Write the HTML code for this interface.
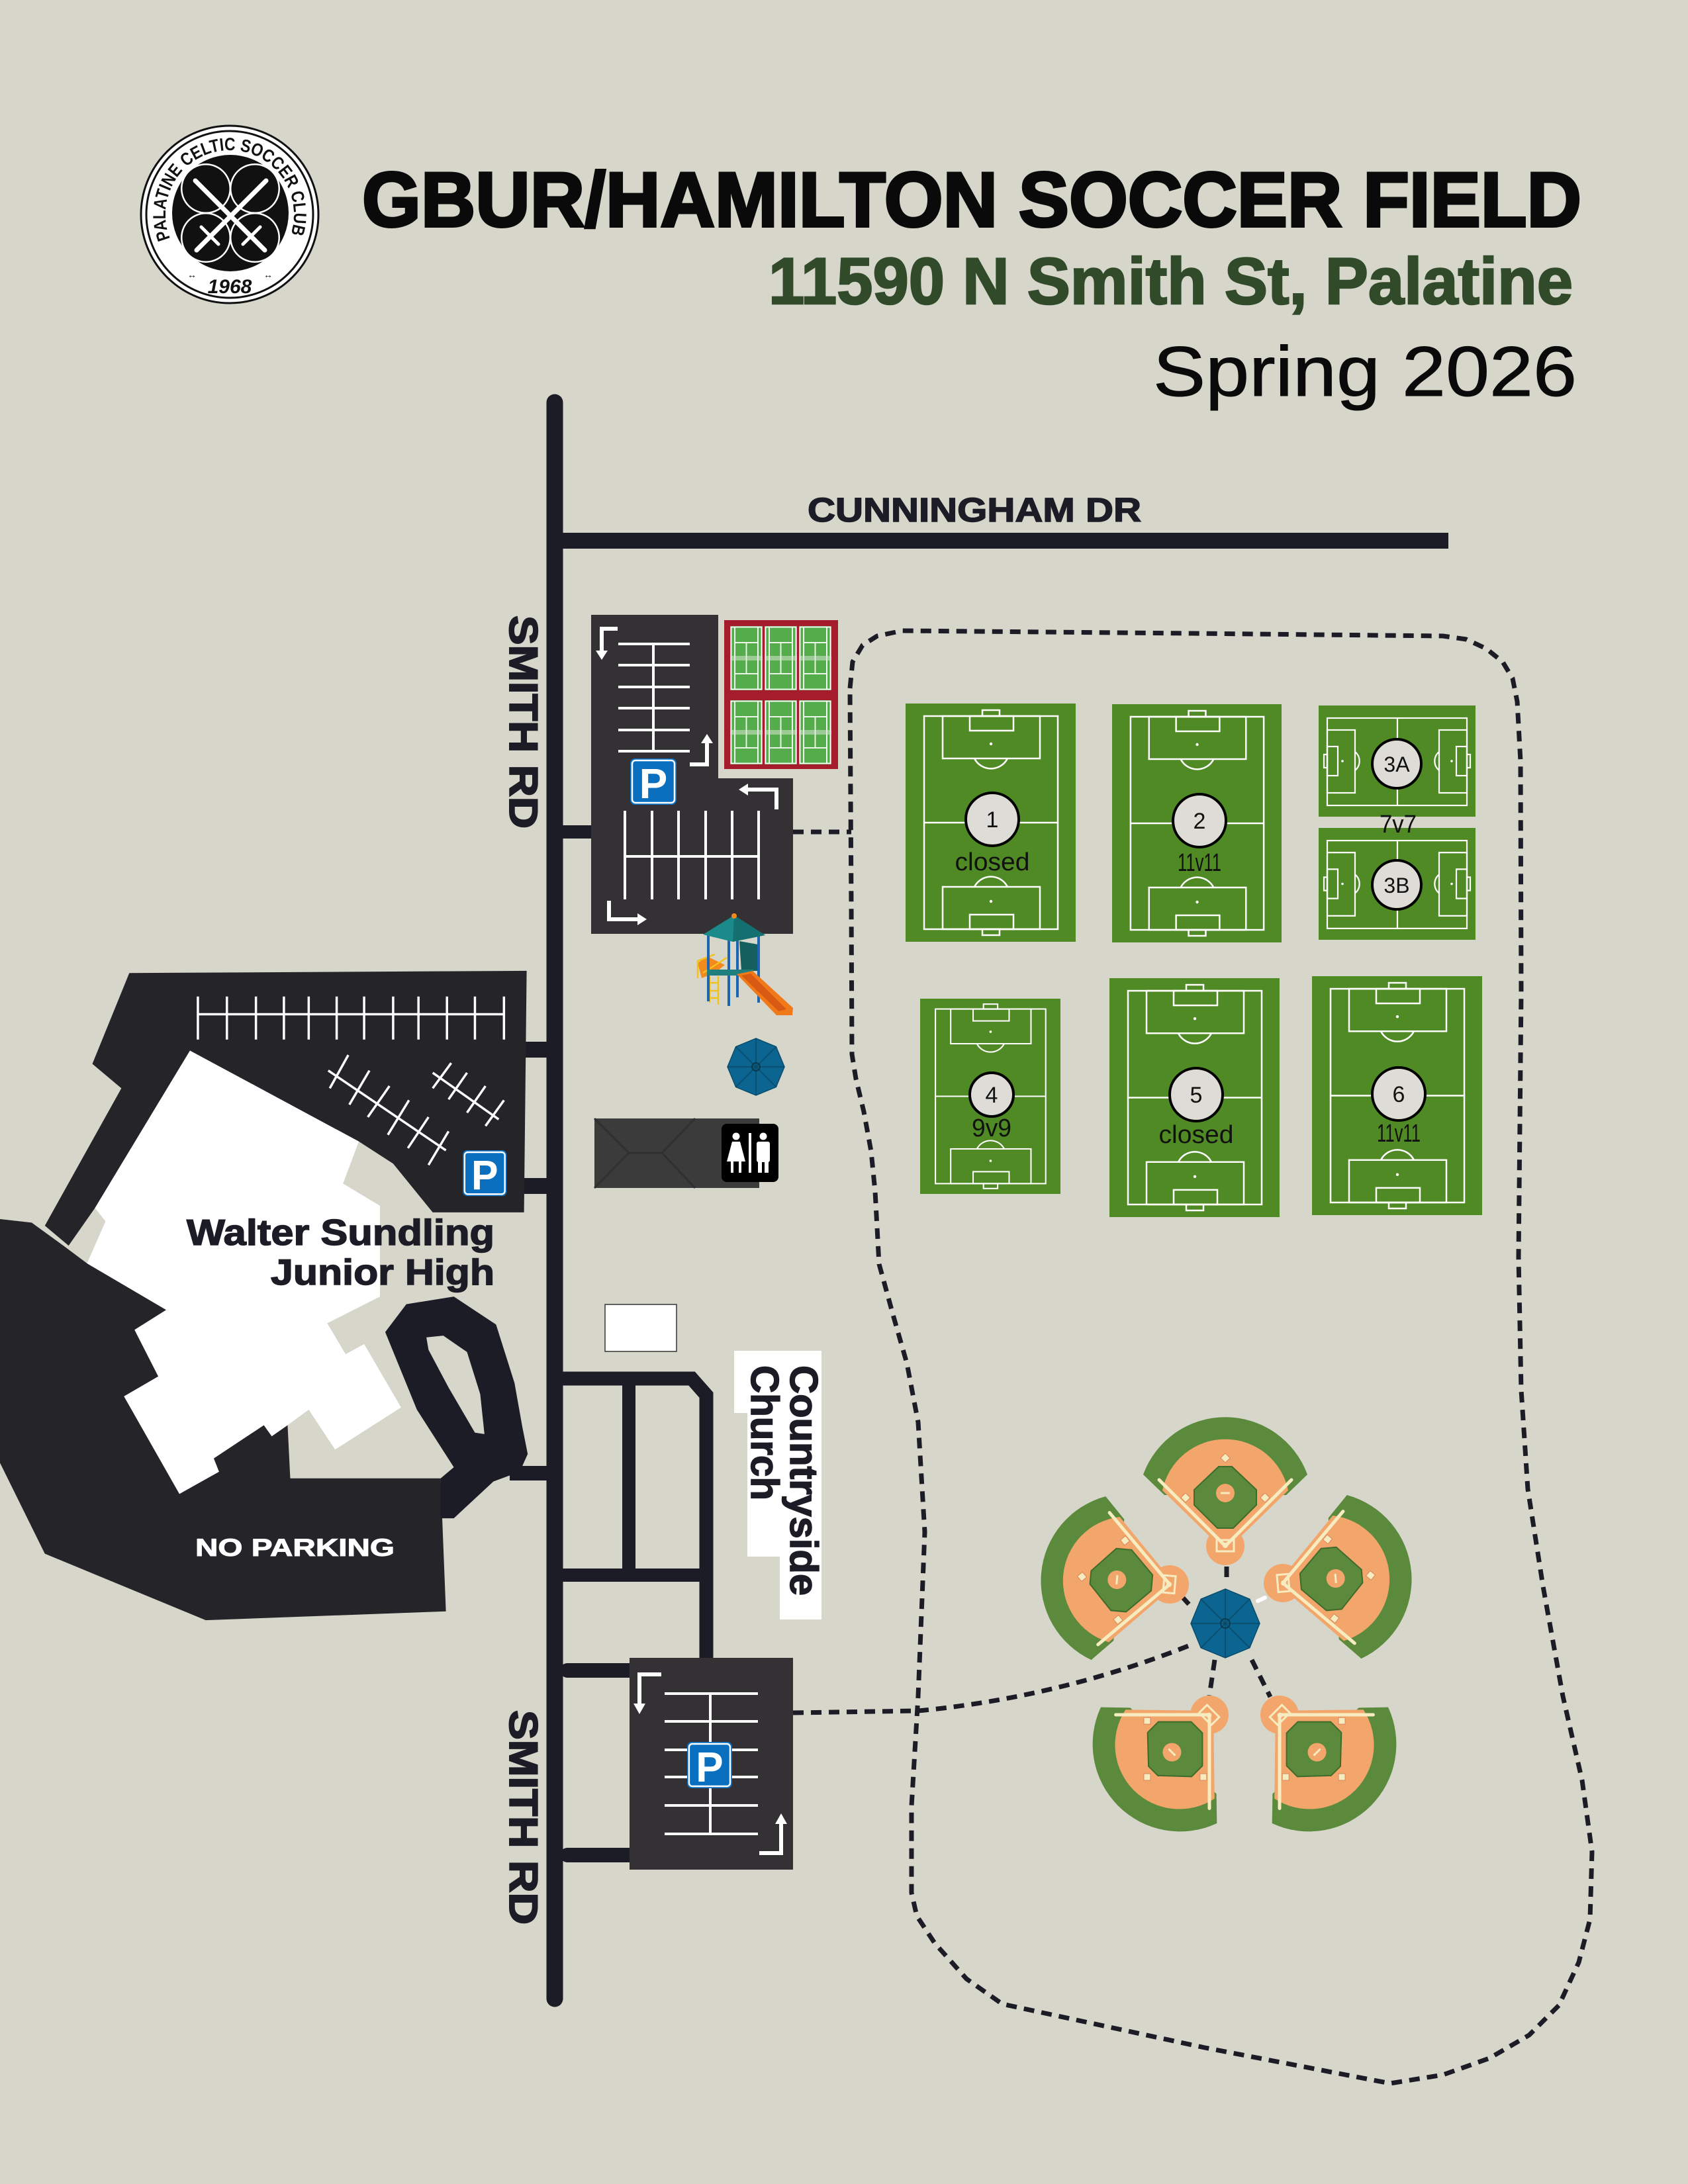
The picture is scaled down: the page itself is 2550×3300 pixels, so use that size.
<!DOCTYPE html>
<html><head><meta charset="utf-8"><style>
html,body{margin:0;padding:0;background:#d6d6cb;}
svg{display:block;}
text{font-family:"Liberation Sans",Arial,sans-serif;}
</style></head><body>
<svg xmlns="http://www.w3.org/2000/svg" xmlns:xlink="http://www.w3.org/1999/xlink" width="2550" height="3300" viewBox="0 0 2550 3300">
<defs>
<symbol id="fv" viewBox="0 0 257 360" preserveAspectRatio="none">
<rect width="257" height="360" fill="#4f8a25"/>
<g fill="none" stroke="#fff" stroke-width="2.5">
<rect x="28" y="19" width="202" height="322"/>
<line x1="28" y1="180" x2="230" y2="180"/>
<rect x="56" y="19" width="147" height="64"/>
<rect x="97" y="19" width="66" height="22"/>
<rect x="116" y="10" width="26" height="9"/>
<path d="M104 83 A28 28 0 0 0 154 83"/>
<rect x="56" y="277" width="147" height="64"/>
<rect x="97" y="319" width="66" height="22"/>
<rect x="116" y="341" width="26" height="9"/>
<path d="M104 277 A28 28 0 0 1 154 277"/>
</g>
<circle cx="129" cy="61" r="2.2" fill="#fff"/><circle cx="129" cy="299" r="2.2" fill="#fff"/>
</symbol>
<symbol id="fh" viewBox="0 0 237 168" preserveAspectRatio="none">
<rect width="237" height="168" fill="#4f8a25"/>
<g fill="none" stroke="#fff" stroke-width="2.2">
<rect x="13" y="19" width="211" height="132"/>
<line x1="119" y1="19" x2="119" y2="151"/>
<rect x="13" y="37" width="42" height="95"/>
<rect x="13" y="62" width="16" height="44"/>
<rect x="8" y="74" width="5" height="20"/>
<path d="M55 70 A18 18 0 0 1 55 98"/>
<rect x="182" y="37" width="42" height="95"/>
<rect x="208" y="62" width="16" height="44"/>
<rect x="224" y="74" width="5" height="20"/>
<path d="M182 70 A18 18 0 0 0 182 98"/>
</g>
<circle cx="36" cy="84" r="1.8" fill="#fff"/><circle cx="201" cy="84" r="1.8" fill="#fff"/>
</symbol>
<symbol id="tc" viewBox="0 0 49 97" preserveAspectRatio="none">
<rect width="49" height="97" fill="#54ad4a"/>
<g fill="none" stroke="#fff" stroke-width="1.8">
<rect x="1.5" y="1.5" width="46" height="94"/>
<line x1="7" y1="1.5" x2="7" y2="95.5"/><line x1="42" y1="1.5" x2="42" y2="95.5"/>
<line x1="7" y1="25" x2="42" y2="25"/><line x1="7" y1="72" x2="42" y2="72"/>
<line x1="24.5" y1="25" x2="24.5" y2="72"/>
</g>
<rect x="0" y="45" width="49" height="7" fill="#d9e3d6" opacity="0.55"/>
</symbol>
<g id="bb">
<path d="M-92 -77 L-124 -108 A132 132 0 0 1 124 -108 L92 -77 Z" fill="#5b8a3c"/>
<path d="M-15 -6 L-95 -84 A97 97 0 0 1 95 -84 L15 -6 Z" fill="#f3a66c"/>
<circle cx="0" cy="0" r="29" fill="#f3a66c"/>
<polygon points="-10,-120 10,-120 47,-85 47,-62 12,-27 -12,-27 -47,-62 -47,-85" fill="#5b8a3c" stroke="#3e6b2a" stroke-width="2"/>
<circle cx="0" cy="-80" r="14" fill="#f3a66c"/>
<line x1="-7" y1="-80" x2="7" y2="-80" stroke="#f6ecc0" stroke-width="3"/>
<g fill="#f6ecc0" stroke="#d9875a" stroke-width="1">
<rect x="-5" y="-5" width="10" height="10" transform="translate(-60,-73) rotate(45)"/>
<rect x="-5" y="-5" width="10" height="10" transform="translate(0,-133) rotate(45)"/>
<rect x="-5" y="-5" width="10" height="10" transform="translate(60,-73) rotate(45)"/>
</g>
<g stroke="#f6ecc0" stroke-width="5" stroke-linecap="round">
<line x1="0" y1="0" x2="-100" y2="-100"/><line x1="0" y1="0" x2="100" y2="-100"/>
</g>
<rect x="-13" y="-9" width="26" height="17" fill="none" stroke="#f6ecc0" stroke-width="3"/>
<circle cx="0" cy="-1" r="4" fill="#f6ecc0"/>
</g>
<g id="psign">
<rect x="0" y="0" width="70" height="70" rx="7" fill="#0b6fc0"/>
<rect x="3" y="3" width="64" height="64" rx="5" fill="none" stroke="#fff" stroke-width="2.5"/>
<text x="35" y="60" font-size="64" font-weight="bold" fill="#fff" text-anchor="middle">P</text>
</g>
</defs>

<rect width="2550" height="3300" fill="#d6d6cb"/>

<!-- LOGO -->
<circle cx="347" cy="324" r="134" fill="#fff" stroke="#111" stroke-width="3"/>
<circle cx="347" cy="324" r="126" fill="none" stroke="#111" stroke-width="3"/>
<path id="ringp" d="M257.1 360.4 A97 97 0 1 1 436.9 360.4" fill="none"/>
<text font-size="27" font-weight="bold" fill="#111"><textPath xlink:href="#ringp" href="#ringp" textLength="372" lengthAdjust="spacingAndGlyphs">PALATINE CELTIC SOCCER CLUB</textPath></text>
<circle cx="348" cy="322" r="88" fill="#111"/>
<g fill="#fff"><circle cx="311" cy="285" r="38"/><circle cx="385" cy="285" r="38"/><circle cx="311" cy="359" r="38"/><circle cx="385" cy="359" r="38"/></g>
<g fill="#111"><circle cx="311" cy="285" r="35.5"/><circle cx="385" cy="285" r="35.5"/><circle cx="311" cy="359" r="35.5"/><circle cx="385" cy="359" r="35.5"/></g>
<g stroke="#fff" stroke-linecap="round">
<line x1="402" y1="273" x2="297" y2="378" stroke-width="7"/>
<line x1="295" y1="273" x2="400" y2="378" stroke-width="7"/>
<line x1="304" y1="343" x2="330" y2="369" stroke-width="5"/>
<line x1="393" y1="343" x2="367" y2="369" stroke-width="5"/>
</g>
<text x="347" y="443" font-size="30" font-weight="bold" font-style="italic" fill="#111" text-anchor="middle">1968</text>
<text x="283" y="420" font-size="14" fill="#111">↔</text>
<text x="398" y="420" font-size="14" fill="#111">↔</text>

<!-- TITLE -->
<text x="547" y="342" font-size="117" font-weight="bold" fill="#0a0a0a" stroke="#0a0a0a" stroke-width="4" textLength="1842" lengthAdjust="spacingAndGlyphs">GBUR/HAMILTON SOCCER FIELD</text>
<text x="1161" y="459" font-size="99" font-weight="bold" fill="#314b2a" stroke="#314b2a" stroke-width="2.5" textLength="1215" lengthAdjust="spacingAndGlyphs">11590 N Smith St, Palatine</text>
<text x="1742" y="598" font-size="107" fill="#0a0a0a" stroke="#0a0a0a" stroke-width="1" textLength="640" lengthAdjust="spacingAndGlyphs">Spring 2026</text>

<!-- ROADS -->
<g stroke="#1c1c27" fill="none">
<line x1="838" y1="608" x2="838" y2="3020" stroke-width="25" stroke-linecap="round"/>
<line x1="838" y1="817" x2="2188" y2="817" stroke-width="24"/>
<line x1="838" y1="1257" x2="895" y2="1257" stroke-width="20"/>
<line x1="782" y1="1586" x2="838" y2="1586" stroke-width="24" stroke-linecap="round"/>
<line x1="782" y1="1792" x2="838" y2="1792" stroke-width="24" stroke-linecap="round"/>
<line x1="770" y1="2226" x2="838" y2="2226" stroke-width="22"/>
<path d="M838 2083 L1045 2083 L1067 2108 L1067 2508" stroke-width="21"/>
<line x1="950" y1="2083" x2="950" y2="2380" stroke-width="20"/>
<line x1="838" y1="2380" x2="1067" y2="2380" stroke-width="20"/>
<line x1="857" y1="2524" x2="955" y2="2524" stroke-width="22" stroke-linecap="round"/>
<line x1="857" y1="2803" x2="955" y2="2803" stroke-width="22" stroke-linecap="round"/>
</g>
<text x="1220" y="788" font-size="51" font-weight="bold" fill="#1c1c26" stroke="#1c1c26" stroke-width="1.5" textLength="504" lengthAdjust="spacingAndGlyphs">CUNNINGHAM DR</text>
<text transform="translate(770,930) rotate(90)" font-size="60" font-weight="bold" fill="#1c1c26" stroke="#1c1c26" stroke-width="2" textLength="322" lengthAdjust="spacingAndGlyphs">SMITH  RD</text>
<text transform="translate(770,2584) rotate(90)" font-size="60" font-weight="bold" fill="#1c1c26" stroke="#1c1c26" stroke-width="2" textLength="324" lengthAdjust="spacingAndGlyphs">SMITH  RD</text>

<!-- SCHOOL -->
<g transform="translate(0,1420) scale(0.79719,0.66979)">
<polygon fill="#242429" points="245,75 998,70 993,615 820,615 745,505 680,455 360,250 180,605 130,690 85,645 230,335 175,280"/>
<polygon fill="#242429" points="0,630 60,638 120,690 165,730 315,835 255,880 300,985 235,1030 340,1250 415,1200 405,1170 500,1095 515,1120 545,1095 550,1215 835,1215 845,1515 390,1535 85,1385 0,1180"/>
<polygon fill="#1c1c27" points="730,885 770,822 860,805 940,868 975,1000 990,1100 1000,1160 985,1200 935,1222 860,1305 835,1305 835,1215 860,1190 790,1060"/>
<polygon fill="#d6d6cb" points="808,897 840,893 885,930 910,1025 918,1115 900,1112 850,1010 812,925"/>
<polygon fill="#ffffff" points="360,250 680,455 650,550 720,600 720,805 620,865 655,935 690,912 760,1055 635,1150 585,1060 545,1095 515,1120 500,1095 405,1170 415,1200 340,1250 235,1030 300,985 255,880 315,835 165,730 200,635 180,605"/>
<g stroke="#fff" stroke-width="3.5" vector-effect="non-scaling-stroke" fill="none">
<line x1="375" y1="168" x2="955" y2="168" vector-effect="non-scaling-stroke"/>
<path vector-effect="non-scaling-stroke" d="M375 128V225M430 128V225M485 128V225M538 128V225M585 128V225M638 128V225M690 128V225M745 128V225M793 128V225M847 128V225M900 128V225M955 128V225"/>
<path vector-effect="non-scaling-stroke" d="M622 295L845 475M660 260L625 335M700 295L662 372M738 330L697 400M775 362L735 440M812 400L773 470M850 432L812 508"/>
<path vector-effect="non-scaling-stroke" d="M820 300L945 405M855 278L820 335M885 300L850 360M920 330L885 390M955 362L920 420"/>
</g>
</g>
<use href="#psign" xlink:href="#psign" transform="translate(699,1738) scale(0.95,0.99)"/>
<text x="747" y="1881" font-size="55" font-weight="bold" fill="#1c1c26" stroke="#1c1c26" stroke-width="1.5" text-anchor="end" textLength="465" lengthAdjust="spacingAndGlyphs">Walter Sundling</text>
<text x="747" y="1941" font-size="55" font-weight="bold" fill="#1c1c26" stroke="#1c1c26" stroke-width="1.5" text-anchor="end" textLength="338" lengthAdjust="spacingAndGlyphs">Junior High</text>
<text x="295" y="2351" font-size="37" font-weight="bold" fill="#fff" stroke="#fff" stroke-width="1" textLength="301" lengthAdjust="spacingAndGlyphs">NO PARKING</text>

<!-- UPPER PARKING -->
<path d="M893 929 H1085 V1176 H1198 V1411 H893 Z" fill="#333133"/>
<g stroke="#fff" stroke-width="4" fill="none">
<path d="M934 973H1042M934 1005H1042M934 1038H1042M934 1070H1042M934 1103H1042M934 1135H1042M987 973V1135"/>
<path d="M944 1225V1359M985 1225V1359M1025 1225V1359M1066 1225V1359M1106 1225V1359M1146 1225V1359M944 1294H1146"/>
</g>
<g stroke="#fff" stroke-width="6" fill="none">
<path d="M933 950H909V985"/><path d="M1042 1155H1068V1121"/><path d="M1173 1223V1193H1128"/><path d="M920 1361V1389H965"/>
</g>
<g fill="#fff">
<polygon points="900,983 918,983 909,997"/><polygon points="1059,1123 1077,1123 1068,1109"/><polygon points="1130,1184 1130,1202 1116,1193"/><polygon points="963,1380 963,1398 977,1389"/>
</g>
<use href="#psign" xlink:href="#psign" transform="translate(952,1146)"/>

<!-- TENNIS -->
<rect x="1094" y="937" width="172" height="225" fill="#a51c2c"/>
<use href="#tc" xlink:href="#tc" x="1103" y="946" width="49" height="97"/>
<use href="#tc" xlink:href="#tc" x="1155" y="946" width="49" height="97"/>
<use href="#tc" xlink:href="#tc" x="1207" y="946" width="49" height="97"/>
<use href="#tc" xlink:href="#tc" x="1103" y="1058" width="49" height="97"/>
<use href="#tc" xlink:href="#tc" x="1155" y="1058" width="49" height="97"/>
<use href="#tc" xlink:href="#tc" x="1207" y="1058" width="49" height="97"/>

<!-- PLAYGROUND -->
<g>
<polygon points="1054,1455 1068,1445 1095,1458 1080,1470 1060,1478" fill="#f28a1e"/>
<g stroke="#f2c21a" stroke-width="2.5" fill="none">
<path d="M1054 1478V1452L1080 1442M1072 1515V1475M1085 1518V1475M1072 1485H1085M1072 1497H1085M1072 1508H1085M1062 1470L1098 1447"/>
</g>
<path d="M1117 1422 L1145 1427 L1145 1467 L1120 1467 Z" fill="#155f5f"/>
<g stroke="#1c64b4" stroke-width="4">
<line x1="1070" y1="1413" x2="1070" y2="1513"/><line x1="1101" y1="1418" x2="1101" y2="1520"/><line x1="1114" y1="1418" x2="1114" y2="1507"/><line x1="1146" y1="1413" x2="1146" y2="1515"/>
</g>
<rect x="1068" y="1465" width="70" height="9" fill="#1f7f7f"/>
<polygon points="1113,1472 1137,1467 1198,1523 1197,1534 1173,1534" fill="#f07a1a"/>
<polygon points="1120,1474 1134,1471 1188,1525 1176,1528" fill="#d85a12"/>
<polygon points="1062,1412 1109,1383 1156,1413 1107,1423" fill="#1a8a8a"/>
<polygon points="1109,1383 1156,1413 1107,1423" fill="#147070"/>
<circle cx="1109" cy="1384" r="4" fill="#f28a1e"/>
</g>

<!-- small umbrella -->
<polygon points="1142,1569 1172.4,1581.6 1185,1612 1172.4,1642.4 1142,1655 1111.6,1642.4 1099,1612 1111.6,1581.6" fill="#0b6590" stroke="#0a4d6c" stroke-width="1.5"/>
<path d="M1142 1569L1142 1655M1099 1612L1185 1612M1111.6 1581.6L1172.4 1642.4M1172.4 1581.6L1111.6 1642.4" stroke="#0a4a66" stroke-width="1.5"/>
<circle cx="1142" cy="1612" r="6" fill="none" stroke="#083a50" stroke-width="2"/>

<!-- restroom -->
<rect x="898" y="1690" width="249" height="105" fill="#3b3b3b"/>
<path d="M898 1690L950 1742L898 1795M950 1742L1000 1742L1050 1690M1000 1742L1050 1795" stroke="#303030" stroke-width="3" fill="none"/>
<rect x="1090" y="1698" width="86" height="88" rx="8" fill="#000"/>
<g fill="#fff">
<circle cx="1112" cy="1717" r="5.5"/>
<polygon points="1106,1725 1118,1725 1126,1755 1098,1755"/>
<rect x="1104" y="1755" width="4" height="17"/><rect x="1116" y="1755" width="4" height="17"/>
<rect x="1131" y="1712" width="4" height="60"/>
<circle cx="1153" cy="1717" r="5.5"/>
<rect x="1143" y="1725" width="20" height="31" rx="3"/>
<rect x="1145" y="1754" width="6" height="18"/><rect x="1155" y="1754" width="6" height="18"/>
</g>

<!-- white rect + church -->
<rect x="914" y="1971" width="108" height="71" fill="#fff" stroke="#333" stroke-width="1.5"/>
<path d="M1109 2041 H1241 V2447 H1178 V2352 H1129 V2135 H1109 Z" fill="#fff"/>
<text transform="translate(1194,2063) rotate(90)" font-size="59" font-weight="bold" fill="#1c1c26" stroke="#1c1c26" stroke-width="1.5" textLength="348" lengthAdjust="spacingAndGlyphs">Countryside</text>
<text transform="translate(1135,2063) rotate(90)" font-size="59" font-weight="bold" fill="#1c1c26" stroke="#1c1c26" stroke-width="1.5" textLength="204" lengthAdjust="spacingAndGlyphs">Church</text>

<!-- LOWER PARKING -->
<rect x="951" y="2505" width="247" height="320" fill="#333133"/>
<g stroke="#fff" stroke-width="4" fill="none">
<path d="M1004 2559H1145M1004 2601H1145M1004 2644H1145M1004 2685H1145M1004 2728H1145M1004 2771H1145M1073 2559V2771"/>
</g>
<g stroke="#fff" stroke-width="6" fill="none"><path d="M999 2530H966V2576"/><path d="M1147 2800H1180V2754"/></g>
<g fill="#fff"><polygon points="957,2574 975,2574 966,2590"/><polygon points="1171,2756 1189,2756 1180,2740"/></g>
<use href="#psign" xlink:href="#psign" transform="translate(1038,2632) scale(0.97,1)"/>

<!-- DASHED BOUNDARY & PATHS -->
<g fill="none" stroke="#1c1c27" stroke-width="7" stroke-dasharray="16 11" stroke-linejoin="round">
<polyline points="1284,1040 1288,1000 1303,975 1325,961 1363,953 1800,957 2180,961 2215,966 2245,980 2270,1000 2285,1025 2292,1060 2297,1150 2298,1500 2294,1900 2298,2100 2308,2250 2331,2397 2361,2563 2390,2690 2405,2798 2402,2900 2385,2965 2355,3030 2310,3075 2250,3110 2180,3135 2100,3148 1820,3094 1514,3028 1460,2990 1412,2936 1385,2895 1377,2860 1377,2729 1387,2563 1397,2315 1387,2149 1370,2060 1350,1990 1328,1910 1322,1800 1316,1740 1305,1680 1293,1630 1287,1593 1286,1370 1284,1040"/>
<line x1="1198" y1="1257" x2="1286" y2="1257"/>
<path d="M1198 2588 L1387 2585 Q1600 2565 1800 2485"/>
<line x1="1853" y1="2367" x2="1853" y2="2394"/>
<line x1="1786" y1="2413" x2="1796" y2="2424"/>
<line x1="1835" y1="2508" x2="1827" y2="2562"/>
<line x1="1891" y1="2508" x2="1919" y2="2564"/>
</g>
<line x1="1900" y1="2419" x2="1911" y2="2414" stroke="#fff" stroke-width="6" stroke-linecap="round"/>

<!-- SOCCER FIELDS -->
<use href="#fv" xlink:href="#fv" x="1368" y="1063" width="257" height="360"/>
<use href="#fv" xlink:href="#fv" x="1680" y="1064" width="256" height="360"/>
<use href="#fh" xlink:href="#fh" x="1992" y="1066" width="237" height="168"/>
<use href="#fh" xlink:href="#fh" x="1992" y="1251" width="237" height="169"/>
<use href="#fv" xlink:href="#fv" x="1390" y="1509" width="212" height="295"/>
<use href="#fv" xlink:href="#fv" x="1676" y="1478" width="257" height="361"/>
<use href="#fv" xlink:href="#fv" x="1982" y="1475" width="257" height="361"/>
<g fill="#dedcd6" stroke="#000" stroke-width="4">
<circle cx="1499" cy="1238" r="40"/><circle cx="1812" cy="1240" r="40"/>
<circle cx="2110" cy="1154" r="37"/><circle cx="2110" cy="1337" r="37"/>
<circle cx="1498" cy="1654" r="33"/><circle cx="1807" cy="1654" r="40"/><circle cx="2113" cy="1653" r="40"/>
</g>
<g font-size="34" fill="#111" text-anchor="middle">
<text x="1499" y="1250">1</text><text x="1812" y="1252">2</text>
<text x="2110" y="1166" font-size="32">3A</text><text x="2110" y="1349" font-size="32">3B</text>
<text x="1498" y="1666">4</text><text x="1807" y="1666">5</text><text x="2113" y="1665">6</text>
</g>
<g font-size="38" fill="#111" text-anchor="middle">
<text x="1499" y="1315" textLength="113" lengthAdjust="spacingAndGlyphs">closed</text>
<text x="1812" y="1316" textLength="66" lengthAdjust="spacingAndGlyphs">11v11</text>
<text x="2112" y="1258" textLength="56" lengthAdjust="spacingAndGlyphs">7v7</text>
<text x="1498" y="1717" textLength="60" lengthAdjust="spacingAndGlyphs">9v9</text>
<text x="1807" y="1727" textLength="113" lengthAdjust="spacingAndGlyphs">closed</text>
<text x="2113" y="1725" textLength="66" lengthAdjust="spacingAndGlyphs">11v11</text>
</g>

<!-- BASEBALL -->
<use href="#bb" xlink:href="#bb" transform="translate(1851,2336)"/>
<use href="#bb" xlink:href="#bb" transform="translate(1767,2394) rotate(-85)"/>
<use href="#bb" xlink:href="#bb" transform="translate(1938,2392) rotate(85)"/>
<use href="#bb" xlink:href="#bb" transform="translate(1827,2591) rotate(-135)"/>
<use href="#bb" xlink:href="#bb" transform="translate(1933,2591) rotate(135)"/>

<!-- big umbrella -->
<polygon points="1851,2401 1887.8,2416.2 1903,2453 1887.8,2489.8 1851,2505 1814.2,2489.8 1799,2453 1814.2,2416.2" fill="#0b6590" stroke="#0a4d6c" stroke-width="1.5"/>
<path d="M1851 2401L1851 2505M1799 2453L1903 2453M1814.2 2416.2L1887.8 2489.8M1887.8 2416.2L1814.2 2489.8" stroke="#0a4a66" stroke-width="1.5"/>
<circle cx="1851" cy="2453" r="7" fill="none" stroke="#083a50" stroke-width="2"/>
</svg>
</body></html>
